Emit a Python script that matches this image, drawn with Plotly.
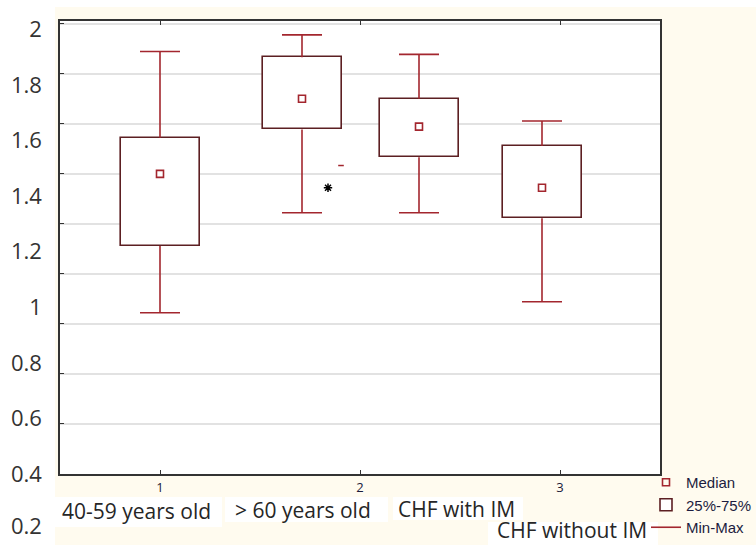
import plotly.graph_objects as go

# ---------------- data ----------------
groups = ["40-59 years old", "> 60 years old", "CHF with IM", "CHF without IM"]
box_x = [1.0, 1.71, 2.295, 2.91]
maxs = [1.92, 1.98, 1.91, 1.67]
q3 = [1.61, 1.90, 1.75, 1.58]
medians = [1.48, 1.75, 1.65, 1.43]
q1 = [1.22, 1.64, 1.54, 1.32]
mins = [0.98, 1.34, 1.34, 1.02]
outlier_x = [1.84]
outlier_y = [1.43]
extra_x = [1.905]
extra_y = [1.51]
x_ticks = [1, 2, 3]
y_ticks = [0.4, 0.6, 0.8, 1.0, 1.2, 1.4, 1.6, 1.8, 2.0]
y_ticktext = ["0.4", "0.6", "0.8", "1", "1.2", "1.4", "1.6", "1.8", "2"]
extra_ylabel = "0.2"

# ---------------- style ----------------
W, H = 756, 545
L, R, T, B = 60, 96, 21, 71
PW, PH = W - L - R, H - T - B
CREAM = "#FFFBEF"
BOXC = "#5C1F22"
WHISK = "#A3262E"
BOX_W = 0.395
CAP = 0.1


def px(x):
    return (x - L) / PW


def py(y):
    return (H - B - y) / PH


fig = go.Figure()

# boxes (25%-75%)
fig.add_trace(go.Bar(
    x=box_x, base=q1, y=[b - a for a, b in zip(q1, q3)], width=BOX_W,
    marker=dict(color="white", line=dict(color=BOXC, width=1.6)),
    name="25%-75%", hoverinfo="skip", legendrank=2,
))

# whiskers (Min-Max)
wx, wy = [], []
for x, lo, a, b, hi in zip(box_x, mins, q1, q3, maxs):
    wx += [x, x, None, x, x, None, x - CAP, x + CAP, None, x - CAP, x + CAP, None]
    wy += [b, hi, None, a, lo, None, hi, hi, None, lo, lo, None]
fig.add_trace(go.Scatter(
    x=wx, y=wy, mode="lines", line=dict(color=WHISK, width=1.6),
    name="Min-Max", hoverinfo="skip", legendrank=3,
))

# medians
fig.add_trace(go.Scatter(
    x=box_x, y=medians, mode="markers",
    marker=dict(symbol="square-open", size=7, color=WHISK, line=dict(width=1.6)),
    name="Median", legendrank=1,
))

# outlier marks
fig.add_trace(go.Scatter(
    x=outlier_x, y=outlier_y, mode="markers",
    marker=dict(symbol="asterisk-open", size=7, color="black", line=dict(width=1.5, color="black")),
    showlegend=False,
))
fig.add_trace(go.Scatter(
    x=extra_x, y=extra_y, mode="markers",
    marker=dict(symbol="line-ew-open", size=4, color=WHISK, line=dict(width=1.5, color=WHISK)),
    showlegend=False,
))


def rect(x0, x1, y0, y1, color):
    return dict(type="rect", xref="paper", yref="paper", x0=px(x0), x1=px(x1),
                y0=py(y1), y1=py(y0), fillcolor=color, line=dict(width=0), layer="below")


shapes = [
    rect(0, 55, 0, H, "white"),
    rect(0, W, 0, 7, "white"),
    # white patches behind the category labels
    rect(55, 222, 497, 527, "white"),
    rect(225, 388, 497, 522, "white"),
    rect(393, 523, 497, 520, "white"),
    rect(488, 658, 522, 545, "white"),
]

label_pos = [(136, 511), (303, 510), (456, 509), (572, 530)]
annotations = []
for text, (cx, cy) in zip(groups, label_pos):
    annotations.append(dict(
        text=text, xref="paper", yref="paper", x=px(cx), y=py(cy),
        xanchor="center", yanchor="middle", showarrow=False,
        font=dict(family="Open Sans", size=21, color="#262626"),
        borderpad=0,
    ))
annotations.append(dict(
    text=extra_ylabel, xref="paper", yref="paper", x=px(44), y=py(525),
    xanchor="right", yanchor="middle", showarrow=False,
    font=dict(family="Open Sans", size=22, color="#333333"),
))

fig.update_layout(
    width=W, height=H,
    margin=dict(l=L, r=R, t=T, b=B, pad=0, autoexpand=False),
    paper_bgcolor=CREAM, plot_bgcolor="white",
    showlegend=True,
    legend=dict(
        x=px(646), y=py(466), xanchor="left", yanchor="top",
        bgcolor="rgba(0,0,0,0)", font=dict(family="Liberation Sans", size=15, color="#1C1C40"),
        itemwidth=30, tracegroupgap=0,
    ),
    bargap=0,
    shapes=shapes,
    annotations=annotations,
    xaxis=dict(
        range=[0.5, 3.5], tickvals=x_ticks, ticks="inside", ticklen=4, tickcolor="#333",
        showline=True, linecolor="#333", linewidth=1.5, mirror="allticks",
        showgrid=False, zeroline=False, automargin=False, ticklabelstandoff=1,
        tickfont=dict(family="Open Sans", size=13, color="#1A1A3A"),
    ),
    yaxis=dict(
        range=[0.4, 2.03], tickvals=y_ticks, ticktext=y_ticktext, ticks="",
        showline=True, linecolor="#333", linewidth=1.5, mirror=True,
        showgrid=False, zeroline=False, ticklabelstandoff=12, automargin=False,
        tickfont=dict(family="Open Sans", size=22, color="#333333"),
        minor=dict(tick0=0.4, dtick=0.18, ticks="inside", ticklen=4, tickcolor="#333",
                   showgrid=True, gridcolor="#E2E2E2", gridwidth=1.5),
    ),
)

fig.write_html(
    "out.html",
    config={"displayModeBar": False},
    post_script="document.body.style.margin='0';document.body.style.overflow='hidden';",
)
